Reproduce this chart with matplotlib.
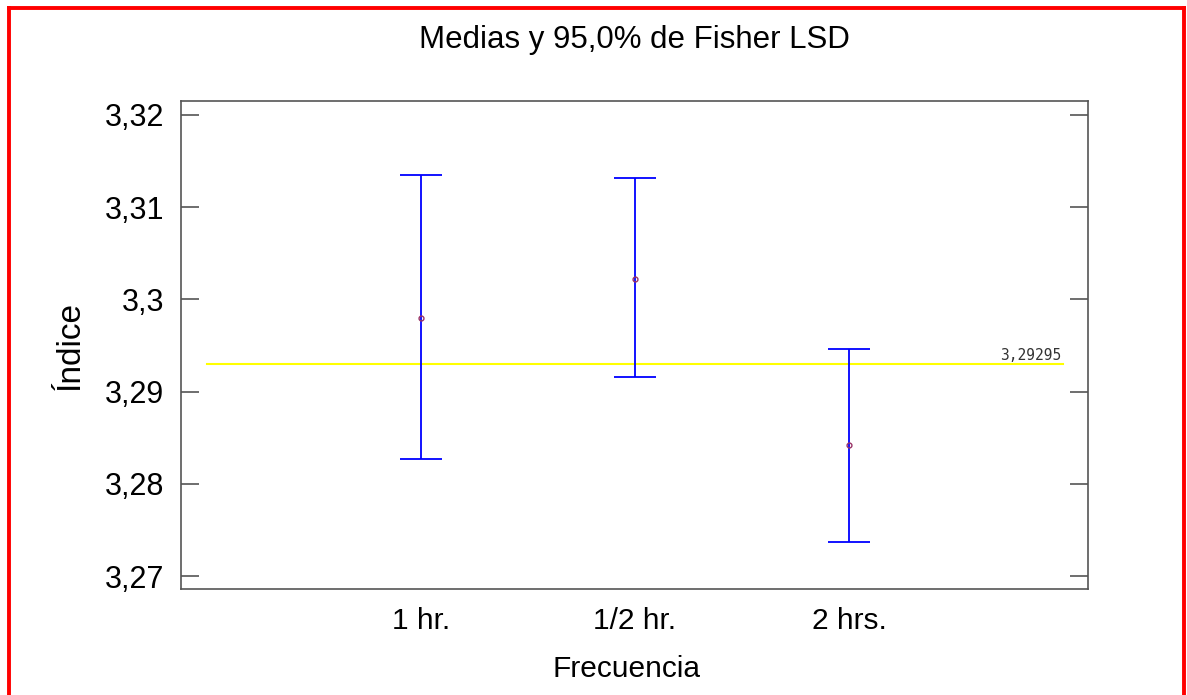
import numpy as np
import matplotlib
matplotlib.use("Agg")
import matplotlib.pyplot as plt
from matplotlib.lines import Line2D
from matplotlib.ticker import FuncFormatter

# Datos
niveles = ["1 hr.", "1/2 hr.", "2 hrs."]
medias = [3.2980, 3.3022, 3.2842]
limite_sup = [3.3135, 3.3131, 3.2946]
limite_inf = [3.2827, 3.2916, 3.2737]
media_global = 3.29295
y_ticks = [3.27, 3.28, 3.29, 3.30, 3.31, 3.32]

plt.rcParams['font.family'] = ['Liberation Sans', 'DejaVu Sans']

fig = plt.figure(figsize=(11.87, 6.95), dpi=100)
ax = fig.add_axes([181/1187, 1 - 589/695, (1088-181)/1187, (589-101)/695])

x = np.arange(1, len(niveles) + 1)
medias = np.array(medias)
err = [medias - np.array(limite_inf), np.array(limite_sup) - medias]

# linea de la media global
ax.plot([0, 4], [media_global, media_global], color='#ffff00', lw=1.5, zorder=1)
ax.text(3.99, media_global + 0.0002, f"{media_global:.5f}".replace('.', ','),
        ha='right', va='bottom', fontsize=10.5, family='DejaVu Sans Mono', color='#333333')

# intervalos LSD
ax.errorbar(x, medias, yerr=err, fmt='none', ecolor='#0000ff', elinewidth=1.3,
            capsize=21*72/100, capthick=1.3, zorder=2)
ax.plot(x, medias, 'o', ms=3.5, mfc='none', mec='#993366', mew=1, zorder=3)

ax.set_xlim(-0.12, 4.115)
ax.set_ylim(3.2686, 3.3215)
ax.set_xticks(x)
ax.set_xticklabels(niveles)
ax.set_yticks(y_ticks)
ax.yaxis.set_major_formatter(FuncFormatter(lambda v, p: f"{v:g}".replace('.', ',')))

ax.tick_params(axis='x', length=0, labelsize=21.5, pad=13)
ax.tick_params(axis='y', direction='in', length=13, width=1.2, color='#555555',
               labelsize=22, pad=12, left=True, right=True)
for s in ax.spines.values():
    s.set_color('#555555')
    s.set_linewidth(1.2)

ax.set_xlabel("Frecuencia", fontsize=21.5, labelpad=10)
ax.xaxis.set_label_coords(0.491, -0.135)
ax.set_ylabel("Índice", fontsize=24, labelpad=14)
fig.text(634/1187, 1 - 40/695, "Medias y 95,0% de Fisher LSD", ha='center', va='center', fontsize=22.5)

# marco rojo
red = '#ff0000'
fig.add_artist(Line2D([8.5/1187, 8.5/1187], [0, 1 - 7.5/695], color=red, lw=2.8))
fig.add_artist(Line2D([8.5/1187, 1184/1187], [1 - 7.5/695, 1 - 7.5/695], color=red, lw=2.8))
fig.add_artist(Line2D([1184/1187, 1184/1187], [0, 1 - 7.5/695], color=red, lw=2.8))

fig.savefig("out.png", dpi=100)
